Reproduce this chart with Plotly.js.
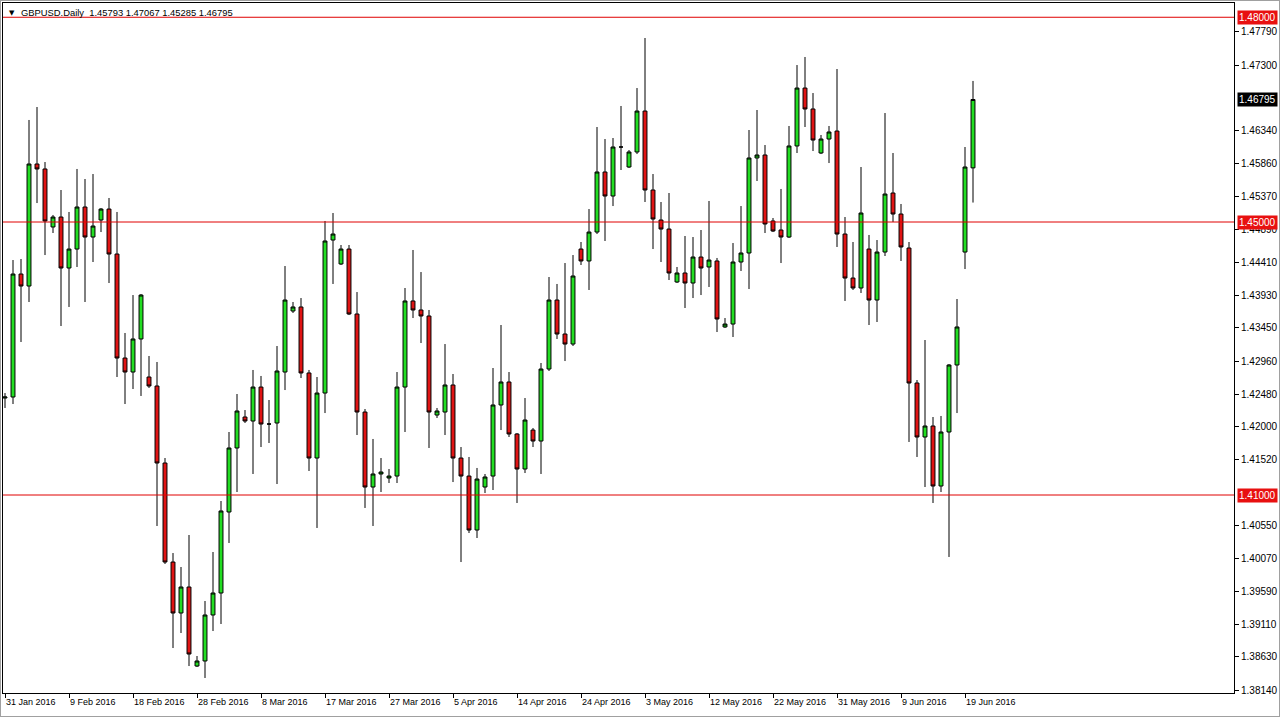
<!DOCTYPE html>
<html>
<head>
<meta charset="utf-8">
<script src="https://cdn.plot.ly/plotly-3.0.1.min.js"></script>
<style>
  html, body { margin: 0; padding: 0; background: #ffffff; }
  #chart { width: 1278px; height: 715px; border: 1px solid #a0a0a0; }
</style>
</head>
<body>
<div id="chart"></div>
<script>
const dates = [
  "2016-01-31","2016-02-01","2016-02-02","2016-02-03","2016-02-04","2016-02-05",
  "2016-02-07","2016-02-08","2016-02-09","2016-02-10","2016-02-11","2016-02-12",
  "2016-02-14","2016-02-15","2016-02-16","2016-02-17","2016-02-18","2016-02-19",
  "2016-02-21","2016-02-22","2016-02-23","2016-02-24","2016-02-25","2016-02-26",
  "2016-02-28","2016-02-29","2016-03-01","2016-03-02","2016-03-03","2016-03-04",
  "2016-03-06","2016-03-07","2016-03-08","2016-03-09","2016-03-10","2016-03-11",
  "2016-03-13","2016-03-14","2016-03-15","2016-03-16","2016-03-17","2016-03-18",
  "2016-03-20","2016-03-21","2016-03-22","2016-03-23","2016-03-24","2016-03-25",
  "2016-03-27","2016-03-28","2016-03-29","2016-03-30","2016-03-31","2016-04-01",
  "2016-04-03","2016-04-04","2016-04-05","2016-04-06","2016-04-07","2016-04-08",
  "2016-04-10","2016-04-11","2016-04-12","2016-04-13","2016-04-14","2016-04-15",
  "2016-04-17","2016-04-18","2016-04-19","2016-04-20","2016-04-21","2016-04-22",
  "2016-04-24","2016-04-25","2016-04-26","2016-04-27","2016-04-28","2016-04-29",
  "2016-05-01","2016-05-02","2016-05-03","2016-05-04","2016-05-05","2016-05-06",
  "2016-05-08","2016-05-09","2016-05-10","2016-05-11","2016-05-12","2016-05-13",
  "2016-05-15","2016-05-16","2016-05-17","2016-05-18","2016-05-19","2016-05-20",
  "2016-05-22","2016-05-23","2016-05-24","2016-05-25","2016-05-26","2016-05-27",
  "2016-05-29","2016-05-30","2016-05-31","2016-06-01","2016-06-02","2016-06-03",
  "2016-06-05","2016-06-06","2016-06-07","2016-06-08","2016-06-09","2016-06-10",
  "2016-06-12","2016-06-13","2016-06-14","2016-06-15","2016-06-16","2016-06-17",
  "2016-06-19","2016-06-20"
];

const openP = [
  1.42421,1.42436,1.44238,1.44062,1.45850,1.45777,
  1.44927,1.45073,1.44326,1.44604,1.45220,1.44780,
  1.45029,1.45190,1.44531,1.43007,1.42802,1.43286,
  1.42729,1.42597,1.41469,1.40018,1.39271,1.39652,
  1.38494,1.38568,1.39242,1.39564,1.40751,1.41689,
  1.42143,1.42084,1.42582,1.42040,1.42055,1.42802,
  1.43696,1.43755,1.42788,1.41542,1.42494,1.44736,
  1.44385,1.44604,1.43652,1.42216,1.41117,1.41308,
  1.41249,1.41278,1.42582,1.43843,1.43711,1.43623,
  1.42172,1.42216,1.42612,1.41542,1.41278,1.40487,
  1.41117,1.41278,1.42319,1.42656,1.41894,1.41381,
  1.41952,1.41791,1.42846,1.43857,1.43359,1.43212,
  1.44604,1.44429,1.44853,1.45733,1.45381,1.46099,
  1.45806,1.46026,1.46626,1.45469,1.45029,1.44897,
  1.44121,1.44253,1.44106,1.44487,1.44341,1.44429,
  1.43462,1.43505,1.44414,1.44546,1.45938,1.45982,
  1.45015,1.44883,1.44780,1.46114,1.46963,1.46656,
  1.46011,1.46216,1.46333,1.44824,1.44179,1.44033,
  1.44604,1.43857,1.44560,1.45425,1.45117,1.44619,
  1.42641,1.41850,1.42011,1.41132,1.41923,1.42905,
  1.44560,1.45793
];
const highP = [
  1.42494,1.44443,1.44458,1.46495,1.46685,1.45879,
  1.45103,1.45469,1.45147,1.45777,1.45630,1.45703,
  1.45205,1.45352,1.45147,1.43374,1.43930,1.43945,
  1.43037,1.42949,1.41542,1.40150,1.39945,1.40414,
  1.38641,1.39447,1.40165,1.40912,1.41923,1.42480,
  1.42245,1.42832,1.42744,1.42392,1.43183,1.44355,
  1.43828,1.43886,1.42832,1.42729,1.45015,1.45132,
  1.44663,1.44663,1.43974,1.42260,1.41821,1.41542,
  1.41381,1.42802,1.44033,1.44590,1.44267,1.43711,
  1.42275,1.43212,1.42773,1.41703,1.41557,1.41396,
  1.41308,1.42861,1.43491,1.42802,1.41908,1.42421,
  1.41982,1.42934,1.44194,1.44092,1.44399,1.44516,
  1.44707,1.45190,1.46392,1.46216,1.46231,1.46700,
  1.46055,1.46963,1.47696,1.45703,1.45293,1.45425,
  1.44341,1.44795,1.44780,1.44883,1.45308,1.44473,
  1.43593,1.44692,1.45234,1.46348,1.46641,1.46128,
  1.45059,1.45484,1.46407,1.47300,1.47418,1.46890,
  1.46275,1.46407,1.47242,1.45073,1.44707,1.45806,
  1.44810,1.44736,1.46597,1.46011,1.45264,1.44707,
  1.42685,1.43271,1.42143,1.42158,1.42919,1.43872,
  1.46099,1.47067
];
const lowP = [
  1.42275,1.42333,1.43242,1.43828,1.45278,1.44516,
  1.44839,1.43476,1.43755,1.44341,1.43828,1.44414,
  1.44853,1.44106,1.42729,1.42333,1.42553,1.42451,
  1.42568,1.40546,1.39989,1.38758,1.38978,1.38494,
  1.38480,1.38319,1.39007,1.39110,1.40297,1.41044,
  1.42055,1.41308,1.41703,1.41762,1.41161,1.42538,
  1.43667,1.42714,1.41352,1.40517,1.42201,1.44092,
  1.44370,1.43637,1.41879,1.40810,1.40546,1.41044,
  1.41176,1.41176,1.41923,1.43593,1.43227,1.41689,
  1.42128,1.41879,1.41190,1.40018,1.40443,1.40370,
  1.41029,1.41073,1.41952,1.41850,1.40883,1.41322,
  1.41703,1.41308,1.42817,1.43286,1.42963,1.43183,
  1.44370,1.44004,1.44824,1.44722,1.45234,1.45762,
  1.45791,1.45996,1.45293,1.44604,1.44414,1.44150,
  1.44106,1.43740,1.43886,1.43930,1.44048,1.43388,
  1.43447,1.43315,1.44282,1.44018,1.45601,1.44839,
  1.44853,1.44399,1.44766,1.46011,1.46392,1.46040,
  1.45996,1.45864,1.44634,1.43843,1.44004,1.43960,
  1.43491,1.43535,1.44502,1.45000,1.44429,1.41777,
  1.41557,1.41117,1.40883,1.41044,1.40092,1.42201,
  1.44311,1.45285
];
const closeP = [
  1.42436,1.44238,1.44062,1.45850,1.45777,1.45015,
  1.45073,1.44326,1.44604,1.45220,1.44780,1.44941,
  1.45190,1.44531,1.43007,1.42802,1.43286,1.43930,
  1.42597,1.41469,1.40018,1.39271,1.39652,1.38670,
  1.38568,1.39242,1.39564,1.40766,1.41689,1.42231,
  1.42084,1.42582,1.42040,1.42040,1.42817,1.43857,
  1.43755,1.42788,1.41542,1.42494,1.44722,1.44824,
  1.44604,1.43652,1.42216,1.41117,1.41308,1.41337,
  1.41278,1.42582,1.43843,1.43711,1.43623,1.42216,
  1.42231,1.42612,1.41542,1.41278,1.40487,1.41234,
  1.41264,1.42319,1.42656,1.41894,1.41381,1.42099,
  1.41791,1.42846,1.43857,1.43359,1.43212,1.44209,
  1.44429,1.44853,1.45733,1.45381,1.46099,1.46099,
  1.46026,1.46626,1.45469,1.45044,1.44897,1.44253,
  1.44253,1.44106,1.44487,1.44326,1.44443,1.43579,
  1.43505,1.44414,1.44546,1.45938,1.45982,1.44971,
  1.44868,1.44780,1.46114,1.46963,1.46656,1.46201,
  1.46216,1.46319,1.44824,1.44179,1.44033,1.45132,
  1.43857,1.44560,1.45410,1.45117,1.44634,1.42641,
  1.41850,1.42011,1.41132,1.41923,1.42905,1.43462,
  1.45806,1.46795
];

const xTickDates = ["2016-01-31","2016-02-09","2016-02-18","2016-02-28","2016-03-08","2016-03-17",
  "2016-03-27","2016-04-05","2016-04-14","2016-04-24","2016-05-03","2016-05-12",
  "2016-05-22","2016-05-31","2016-06-09","2016-06-19"];
const xTickLabels = ["31 Jan 2016","9 Feb 2016","18 Feb 2016","28 Feb 2016","8 Mar 2016","17 Mar 2016",
  "27 Mar 2016","5 Apr 2016","14 Apr 2016","24 Apr 2016","3 May 2016","12 May 2016",
  "22 May 2016","31 May 2016","9 Jun 2016","19 Jun 2016"];

const yTickVals = [1.4779,1.4730,1.4634,1.4586,1.4537,1.4489,1.4441,1.4393,1.4345,
  1.4296,1.4248,1.4200,1.4152,1.4055,1.4007,1.3959,1.3911,1.3863,1.3814];
const yTickLabels = ["1.47790","1.47300","1.46340","1.45860","1.45370","1.44890","1.44410",
  "1.43930","1.43450","1.42960","1.42480","1.42000","1.41520","1.40550","1.40070",
  "1.39590","1.39110","1.38630","1.38140"];

const levelLines = [1.48, 1.45, 1.41];
const levelLabels = ["1.48000", "1.45000", "1.41000"];
const currentPrice = 1.46795;
const currentLabel = "1.46795";
const titleText = "GBPUSD.Daily  1.45793 1.47067 1.45285 1.46795";

const FONT = "Liberation Sans, Arial, sans-serif";

const trace = {
  type: "candlestick",
  x: dates,
  open: openP, high: highP, low: lowP, close: closeP,
  increasing: { line: { color: "#000000", width: 1 }, fillcolor: "#22dd22" },
  decreasing: { line: { color: "#000000", width: 1 }, fillcolor: "#e01414" },
  whiskerwidth: 0,
  hoverinfo: "skip",
  showlegend: false
};

const shapes = levelLines.map(v => ({
  type: "line", xref: "paper", x0: 0, x1: 1, yref: "y", y0: v, y1: v,
  line: { color: "#e00000", width: 1 }, layer: "above"
}));

const annotations = levelLines.map((v, i) => ({
  xref: "paper", x: 1, xanchor: "left", xshift: 3,
  yref: "y", y: v, yanchor: "middle",
  text: levelLabels[i], showarrow: false,
  bgcolor: "#e81010", borderpad: 1,
  font: { family: FONT, size: 10, color: "#ffffff" }
}));
annotations.push({
  xref: "paper", x: 1, xanchor: "left", xshift: 3,
  yref: "y", y: currentPrice, yanchor: "middle",
  text: currentLabel, showarrow: false,
  bgcolor: "#000000", borderpad: 1,
  font: { family: FONT, size: 10, color: "#ffffff" }
});
annotations.push({
  xref: "paper", x: 0, xanchor: "left", xshift: 4,
  yref: "paper", y: 1, yanchor: "top", yshift: -4,
  text: "▼", showarrow: false,
  font: { family: "DejaVu Sans, sans-serif", size: 7, color: "#000000" }
});
annotations.push({
  xref: "paper", x: 0, xanchor: "left", xshift: 16,
  yref: "paper", y: 1, yanchor: "top", yshift: -2,
  text: titleText, showarrow: false,
  font: { family: FONT, size: 9.4, color: "#000000" }
});

const layout = {
  width: 1278, height: 715,
  margin: { l: 2, r: 45, t: 2, b: 23, pad: 0 },
  paper_bgcolor: "#ffffff", plot_bgcolor: "#ffffff",
  showlegend: false,
  xaxis: {
    type: "category",
    range: [-0.25, 153.625],
    rangeslider: { visible: false },
    showgrid: false, zeroline: false,
    showline: true, linecolor: "#000000", linewidth: 1, mirror: true,
    ticks: "outside", ticklen: 4, tickcolor: "#000000",
    tickvals: xTickDates, ticktext: xTickLabels,
    tickangle: 0,
    ticklabelposition: "outside right",
    tickfont: { family: FONT, size: 9, color: "#000000" },
    fixedrange: true
  },
  yaxis: {
    side: "right",
    range: [1.38099, 1.48209],
    showgrid: false, zeroline: false,
    showline: true, linecolor: "#000000", linewidth: 1, mirror: true,
    ticks: "outside", ticklen: 4, tickcolor: "#000000",
    tickvals: yTickVals, ticktext: yTickLabels,
    tickfont: { family: FONT, size: 10, color: "#000000" },
    fixedrange: true
  },
  shapes: shapes,
  annotations: annotations
};

Plotly.newPlot("chart", [trace], layout, { staticPlot: true, displayModeBar: false });
</script>
</body>
</html>
